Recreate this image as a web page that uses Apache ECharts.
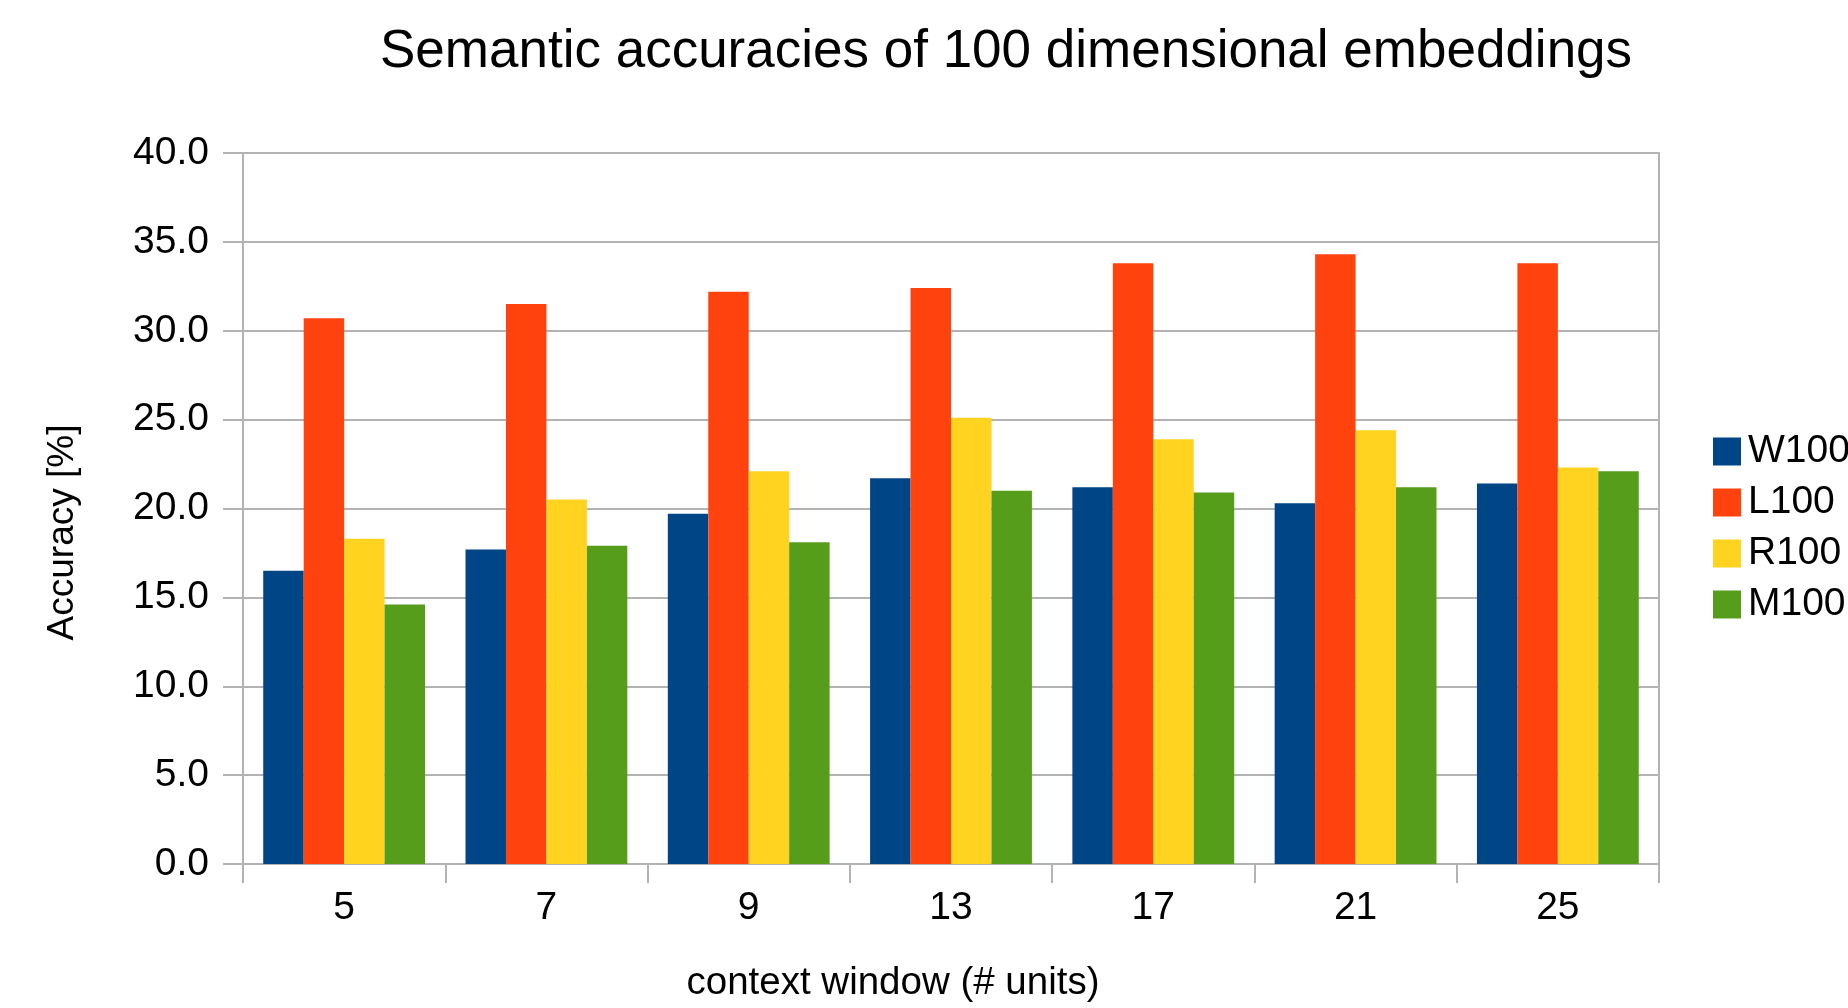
<!DOCTYPE html>
<html>
<head>
<meta charset="utf-8">
<title>Semantic accuracies of 100 dimensional embeddings</title>
<script src="https://cdn.jsdelivr.net/npm/echarts@6/dist/echarts.min.js"></script>
<style>
  html, body { margin: 0; padding: 0; background: #ffffff; }
  #chart { width: 1848px; height: 1008px; }
</style>
</head>
<body>
<div id="chart"></div>
<script>
// Context window sizes (x categories)
const windows = ['5', '7', '9', '13', '17', '21', '25'];

// Semantic accuracy [%] per embedding type
const seriesNames = ['W100', 'L100', 'R100', 'M100'];
const w100 = [16.5, 17.7, 19.7, 21.7, 21.2, 20.3, 21.4];
const l100 = [30.7, 31.5, 32.2, 32.4, 33.8, 34.3, 33.8];
const r100 = [18.3, 20.5, 22.1, 25.1, 23.9, 24.4, 22.3];
const m100 = [14.6, 17.9, 18.1, 21.0, 20.9, 21.2, 22.1];

// Value axis range
const yMin = 0;
const yMax = 40;
const yStep = 5;

const colors = ['#004586', '#ff420e', '#ffd320', '#579d1c'];
const font = 'Liberation Sans, Arial, sans-serif';
const gridGray = '#b3b3b3';

const chart = echarts.init(document.getElementById('chart'), null, { renderer: 'canvas' });

const seriesData = [w100, l100, r100, m100];

chart.setOption({
  backgroundColor: '#ffffff',
  animation: false,
  color: colors,
  title: {
    text: 'Semantic accuracies of 100 dimensional embeddings',
    left: 375,
    top: 21,
    textStyle: { fontFamily: font, fontSize: 53, fontWeight: 'normal', color: '#000000' }
  },
  legend: {
    orient: 'vertical',
    left: 1708,
    top: 427,
    itemWidth: 28,
    itemHeight: 28,
    itemGap: 12,
    icon: 'rect',
    data: seriesNames,
    textStyle: { fontFamily: font, fontSize: 39, color: '#000000', padding: [0, 0, 0, 2] }
  },
  grid: {
    left: 243,
    right: 189,
    top: 153,
    bottom: 141,
    show: true,
    borderColor: gridGray,
    borderWidth: 2,
    backgroundColor: 'transparent',
    containLabel: false
  },
  xAxis: {
    type: 'category',
    data: windows,
    name: 'context window (# units)',
    nameLocation: 'middle',
    nameGap: 100,
    nameTextStyle: { fontFamily: font, fontSize: 38.5, color: '#000000', padding: [0, 116, 0, 0] },
    axisLine: { show: true, lineStyle: { color: gridGray, width: 2 } },
    axisTick: { show: true, length: 19, lineStyle: { color: gridGray, width: 2 } },
    axisLabel: { fontFamily: font, fontSize: 39, color: '#000000', margin: 25 },
    splitLine: { show: false }
  },
  yAxis: {
    type: 'value',
    min: yMin,
    max: yMax,
    interval: yStep,
    name: 'Accuracy [%]',
    nameLocation: 'middle',
    nameGap: 162,
    nameRotate: 90,
    nameTextStyle: { fontFamily: font, fontSize: 37, color: '#000000', padding: [0, 48, 0, 0] },
    axisLine: { show: true, lineStyle: { color: gridGray, width: 2 } },
    axisTick: { show: true, length: 20, lineStyle: { color: gridGray, width: 2 } },
    axisLabel: {
      fontFamily: font, fontSize: 39, color: '#000000', margin: 34,
      formatter: v => v.toFixed(1),
      padding: [0, 0, 12, 0]
    },
    splitLine: { show: true, lineStyle: { color: gridGray, width: 2 } }
  },
  series: seriesNames.map((name, i) => ({
    name: name,
    type: 'bar',
    data: seriesData[i],
    barGap: '0%',
    barCategoryGap: '20%',
    itemStyle: { color: colors[i] }
  }))
});
</script>
</body>
</html>
